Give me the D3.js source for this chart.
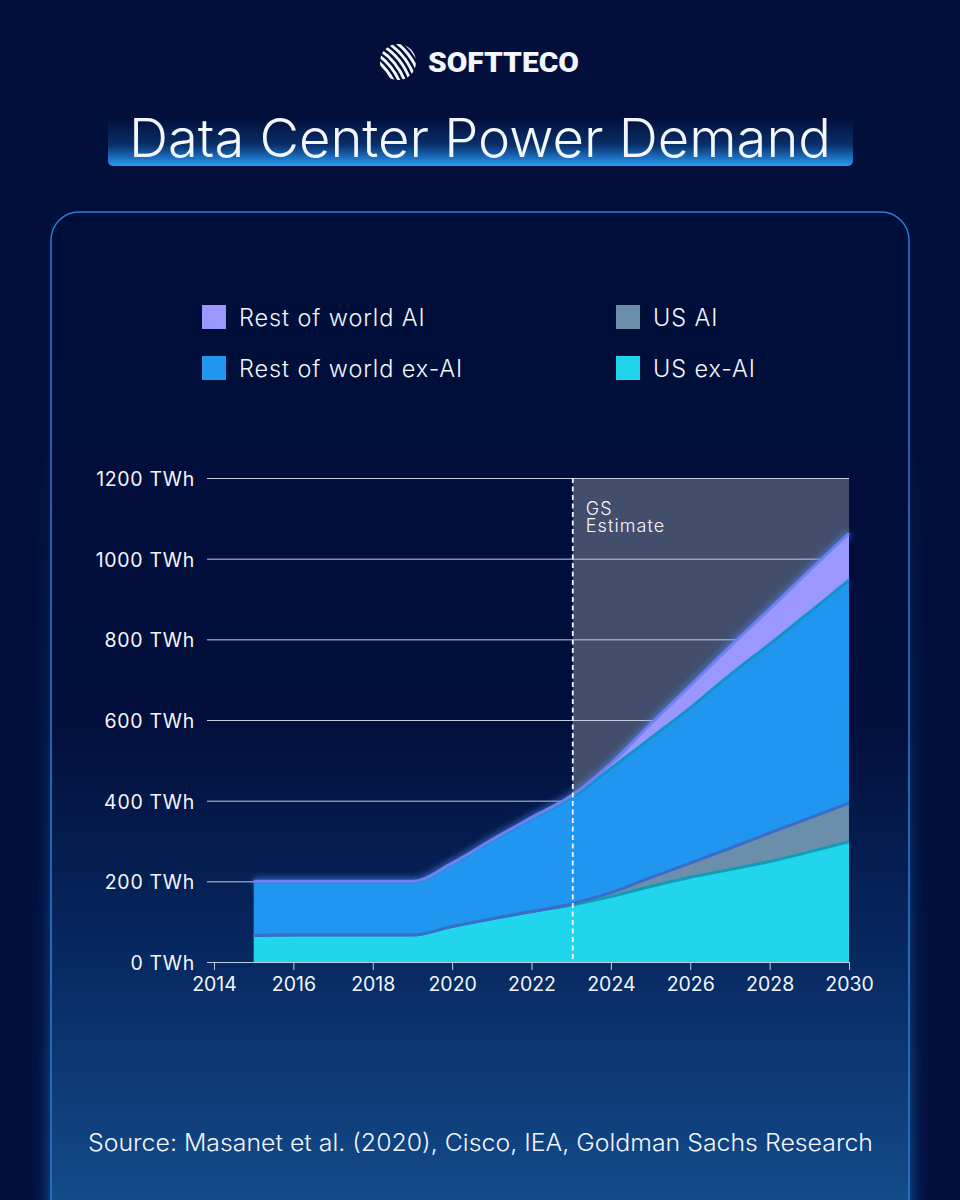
<!DOCTYPE html>
<html>
<head>
<meta charset="utf-8">
<script src="https://cdn.jsdelivr.net/npm/d3@7"></script>
<style>
  html, body { margin: 0; padding: 0; background: #020f3b; }
  #chart { width: 960px; height: 1200px; overflow: hidden; }
  text { font-family: Inter, sans-serif; fill: #f3f6fc; }
</style>
</head>
<body>
<div id="chart"></div>
<script>
const years = [2015, 2016, 2017, 2018, 2019, 2020, 2021, 2022, 2023, 2024, 2025, 2026, 2027, 2028, 2029, 2030];
const usExAi = [66, 67, 67, 67, 67, 88, 107, 125, 141, 162, 187, 210, 229, 249, 273, 298];
const usAi = [0, 0, 0, 0, 0, 0, 0, 0, 3, 10, 22, 35, 53, 71, 84, 96];
const rowExAi = [132, 131, 131, 131, 131, 155, 194, 230, 263, 308, 346, 385, 430, 468, 510, 553];
const rowAi = [2, 2, 2, 2, 2, 2, 2, 3, 5, 12, 35, 55, 70, 87, 103, 116];

const seriesNames = ["US ex-AI", "US AI", "Rest of world ex-AI", "Rest of world AI"];
const seriesColors = ["#20d5ec", "#6b8fab", "#2196f1", "#9a98ff"];
const lineColors = ["#0f9db5", "#3a6cc9", "#0f93c8", "#6f80f5"];
const legendOrder = ["Rest of world AI", "US AI", "Rest of world ex-AI", "US ex-AI"];

const yTicks = [0, 200, 400, 600, 800, 1000, 1200];
const xTicks = [2014, 2016, 2018, 2020, 2022, 2024, 2026, 2028, 2030];
const estimateStart = 2023.04;

const rows = years.map((y, i) => ({
    year: y,
    "US ex-AI": usExAi[i],
    "US AI": usAi[i],
    "Rest of world ex-AI": rowExAi[i],
    "Rest of world AI": rowAi[i]
}));

const svg = d3.select("#chart").append("svg")
    .attr("width", 960)
    .attr("height", 1200);

const defs = svg.append("defs");

const cardGrad = defs.append("linearGradient").attr("id", "cardGrad")
    .attr("x1", 0).attr("x2", 0).attr("y1", 0).attr("y2", 1);
cardGrad.append("stop").attr("offset", "0%").attr("stop-color", "#000e3a");
cardGrad.append("stop").attr("offset", "50%").attr("stop-color", "#020f3c");
cardGrad.append("stop").attr("offset", "72%").attr("stop-color", "#07275f");
cardGrad.append("stop").attr("offset", "100%").attr("stop-color", "#144f90");

const titleGrad = defs.append("linearGradient").attr("id", "titleGrad")
    .attr("x1", 0).attr("x2", 0).attr("y1", 0).attr("y2", 1);
titleGrad.append("stop").attr("offset", "0%").attr("stop-color", "#1f8fef").attr("stop-opacity", 0);
titleGrad.append("stop").attr("offset", "55%").attr("stop-color", "#1f8fef").attr("stop-opacity", 0.25);
titleGrad.append("stop").attr("offset", "100%").attr("stop-color", "#2a9bf5").attr("stop-opacity", 1);

const glowFade = defs.append("linearGradient").attr("id", "glowFade")
    .attr("x1", 0).attr("x2", 0).attr("y1", 0).attr("y2", 1);
glowFade.append("stop").attr("offset", "0%").attr("stop-color", "#1c74d0").attr("stop-opacity", 0);
glowFade.append("stop").attr("offset", "100%").attr("stop-color", "#1c74d0").attr("stop-opacity", 0.85);

defs.append("filter").attr("id", "blur12")
    .attr("x", "-20%").attr("y", "-20%").attr("width", "140%").attr("height", "140%")
    .append("feGaussianBlur").attr("stdDeviation", 10);
defs.append("filter").attr("id", "blur3")
    .attr("x", "-10%").attr("y", "-10%").attr("width", "120%").attr("height", "120%")
    .append("feGaussianBlur").attr("stdDeviation", 3);

defs.append("clipPath").attr("id", "logoClip")
    .append("circle").attr("cx", 398).attr("cy", 62).attr("r", 18);

svg.append("rect").attr("width", 960).attr("height", 1200).attr("fill", "#020f3b");

// card with soft glow round the lower part
svg.append("rect")
    .attr("x", 51).attr("y", 420).attr("width", 858).attr("height", 820).attr("rx", 28)
    .attr("fill", "url(#glowFade)")
    .attr("filter", "url(#blur12)");
svg.append("rect")
    .attr("x", 51).attr("y", 212).attr("width", 858).attr("height", 1020).attr("rx", 28)
    .attr("fill", "url(#cardGrad)")
    .attr("stroke", "#2a7fd6")
    .attr("stroke-width", 1.5);

// logo
const logo = svg.append("g")
    .attr("clip-path", "url(#logoClip)")
    .append("g")
    .attr("transform", "rotate(-38 398 62)");
d3.range(-5, 6).forEach(i => {
    logo.append("path")
        .attr("d", `M${392 + i * 5.4},${30} Q${408 + i * 5.4},${62} ${392 + i * 5.4},${94}`)
        .attr("fill", "none")
        .attr("stroke", "#f3f6fc")
        .attr("stroke-width", 2.9);
});
svg.append("text")
    .attr("x", 428).attr("y", 72)
    .attr("textLength", 151).attr("lengthAdjust", "spacingAndGlyphs")
    .style("font-family", "Roboto, sans-serif")
    .style("font-weight", 900)
    .style("font-size", "28px")
    .text("SOFTTECO");

// title band
svg.append("rect")
    .attr("x", 108).attr("y", 118).attr("width", 745).attr("height", 48).attr("rx", 5)
    .attr("fill", "url(#titleGrad)");
svg.append("text")
    .attr("x", 480).attr("y", 157)
    .attr("text-anchor", "middle")
    .attr("textLength", 702).attr("lengthAdjust", "spacingAndGlyphs")
    .style("font-size", "53px")
    .style("font-weight", 300)
    .text("Data Center Power Demand");

// legend
const legendX = [202, 616];
const legendY = [305, 356];
legendOrder.forEach((name, i) => {
    const lx = legendX[i % 2], ly = legendY[Math.floor(i / 2)];
    svg.append("rect")
        .attr("x", lx).attr("y", ly).attr("width", 24).attr("height", 24)
        .attr("fill", seriesColors[seriesNames.indexOf(name)]);
    svg.append("text")
        .attr("x", lx + 37).attr("y", ly + 21)
        .style("font-size", "23.5px")
        .style("font-weight", 300)
        .style("letter-spacing", "0.9px")
        .text(name);
});

// chart
const x = d3.scaleLinear().domain([2014, 2030]).range([214, 849]);
const y = d3.scaleLinear().domain([0, 1200]).range([962, 478]);

svg.append("rect")
    .attr("x", x(estimateStart)).attr("y", y(1200))
    .attr("width", x(2030) - x(estimateStart)).attr("height", y(0) - y(1200))
    .attr("fill", "#434e6d");

const yAxis = svg.append("g")
    .attr("transform", "translate(207,0)")
    .call(d3.axisLeft(y).tickValues(yTicks).tickFormat(d => d + " TWh").tickSize(-642).tickPadding(12));
yAxis.select(".domain").remove();
yAxis.selectAll("line").attr("stroke", "#c3cde2").attr("stroke-width", 1);
yAxis.selectAll("text")
    .style("font-family", "Inter, sans-serif")
    .style("font-size", "19.5px")
    .style("font-weight", 400)
    .style("letter-spacing", "0.7px")
    .attr("dy", "0.38em")
    .attr("fill", "#f3f6fc");

const stack = d3.stack().keys(seriesNames);
const layers = stack(rows);

const area = d3.area()
    .x(d => x(d.data.year))
    .y0(d => y(d[0]))
    .y1(d => y(d[1]))
    .curve(d3.curveMonotoneX);
const topLine = d3.line()
    .x(d => x(d.data.year))
    .y(d => y(d[1]))
    .curve(d3.curveMonotoneX);

// glow along the top of the stack
svg.append("path")
    .attr("d", topLine(layers[3]))
    .attr("fill", "none")
    .attr("stroke", "#4f8df5")
    .attr("stroke-width", 7)
    .attr("opacity", 0.6)
    .attr("filter", "url(#blur3)");

svg.selectAll(".layer")
    .data(layers)
    .enter().append("path")
    .attr("class", "layer")
    .attr("d", area)
    .attr("fill", (d, i) => seriesColors[i]);

svg.selectAll(".layer-top")
    .data(layers)
    .enter().append("path")
    .attr("class", "layer-top")
    .attr("d", topLine)
    .attr("fill", "none")
    .attr("stroke", (d, i) => lineColors[i])
    .attr("stroke-width", 3);

const xAxis = svg.append("g")
    .attr("transform", `translate(0,${y(0)})`)
    .call(d3.axisBottom(x).tickValues(xTicks).tickFormat(d3.format("d")).tickSize(8).tickPadding(7));
xAxis.select(".domain").attr("stroke", "#c3cde2");
xAxis.selectAll("line").attr("stroke", "#c3cde2");
xAxis.selectAll("text")
    .style("font-family", "Inter, sans-serif")
    .style("font-size", "19.5px")
    .style("font-weight", 400)
    .attr("fill", "#f3f6fc");

// estimate marker
svg.append("line")
    .attr("x1", x(estimateStart)).attr("x2", x(estimateStart))
    .attr("y1", y(1200)).attr("y2", y(0))
    .attr("stroke", "#f3f6fc")
    .attr("stroke-width", 1.8)
    .attr("stroke-dasharray", "5 3.5");
const est = svg.append("text")
    .attr("x", x(estimateStart) + 13)
    .style("font-size", "18px")
    .style("font-weight", 300)
    .style("letter-spacing", "1.1px");
est.append("tspan").attr("x", x(estimateStart) + 13).attr("y", 515).text("GS");
est.append("tspan").attr("x", x(estimateStart) + 13).attr("y", 532).text("Estimate");

svg.append("text")
    .attr("x", 88).attr("y", 1151)
    .attr("textLength", 785).attr("lengthAdjust", "spacingAndGlyphs")
    .style("font-size", "23.5px")
    .style("font-weight", 300)
    .text("Source: Masanet et al. (2020), Cisco, IEA, Goldman Sachs Research");
</script>
</body>
</html>
